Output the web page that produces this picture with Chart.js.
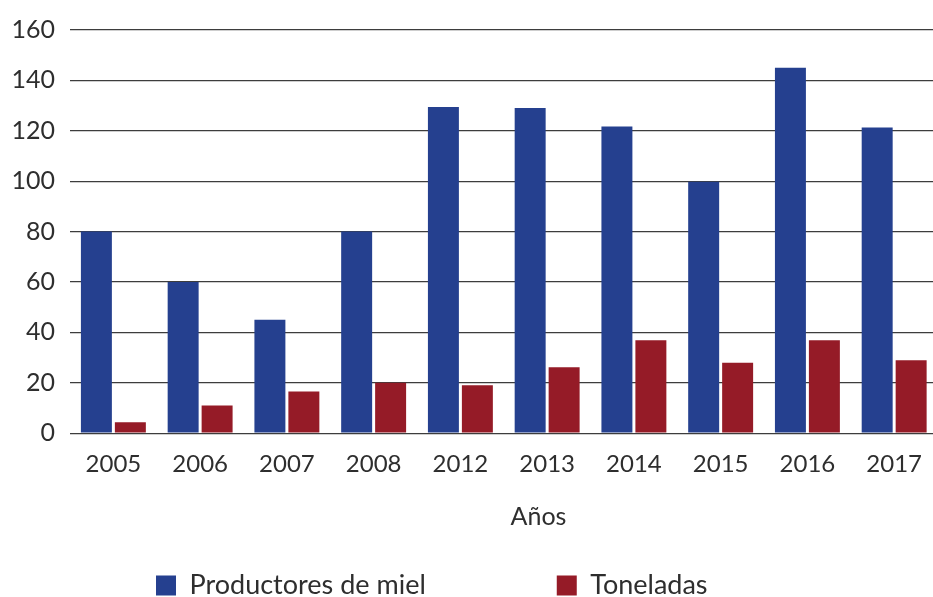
<!DOCTYPE html>
<html>
<head>
<meta charset="utf-8">
<script src="https://cdn.jsdelivr.net/npm/chart.js@4.4.0/dist/chart.umd.min.js"></script>
<style>
  html, body { margin: 0; padding: 0; background: #ffffff; overflow: hidden; }
  #wrap { width: 939px; height: 597px; }
</style>
</head>
<body>
<div id="wrap"><canvas id="c" width="939" height="597"></canvas></div>
<script>
const categories = ['2005', '2006', '2007', '2008', '2012', '2013', '2014', '2015', '2016', '2017'];
const productores = [80, 60, 45, 80, 129.4, 129, 121.7, 99.8, 145, 121.3];
const toneladas = [4.3, 11, 16.5, 20, 19, 26.2, 36.9, 28, 36.9, 28.9];
const seriesNames = ['Productores de miel', 'Toneladas'];
const axisTitle = 'Años';
const yTicks = [0, 20, 40, 60, 80, 100, 120, 140, 160];

const FONT = 'Lato, "Open Sans", sans-serif';
const TEXT = '#2e2e2e';

const placePlugin = {
  id: 'place',
  afterLayout(chart) {
    const lg = chart.legend;
    if (lg && lg.lineWidths) {
      const pad = lg.options.labels.padding;
      const cur = (lg.left + pad + lg.right - lg.lineWidths[0]) / 2;
      const shift = 156 - cur;
      lg.left += shift; lg.right += shift;
      lg.top = 572 - pad;
      lg.bottom = 597;
      lg.height = lg.bottom - lg.top;
    }
    const tb = chart.titleBlock;
    if (tb) {
      const w = tb.right - tb.left;
      const c = 538.5;
      tb.left = c - w / 2; tb.right = c + w / 2;
      tb.top = 502;
      tb.bottom = tb.top + 32;
    }
  }
};

new Chart(document.getElementById('c'), {
  type: 'bar',
  data: {
    labels: categories,
    datasets: [
      { label: seriesNames[0], data: productores, backgroundColor: '#25408f', borderWidth: 0,
        barPercentage: 0.912, categoryPercentage: 0.783 },
      { label: seriesNames[1], data: toneladas, backgroundColor: '#951b27', borderWidth: 0,
        barPercentage: 0.912, categoryPercentage: 0.783 }
    ]
  },
  options: {
    responsive: false,
    animation: false,
    devicePixelRatio: 1,
    layout: { padding: { top: 26, left: 0, right: 0, bottom: 31 } },
    scales: {
      x: {
        grid: { display: false, drawTicks: false },
        border: { display: false },
        ticks: { color: TEXT, font: { family: FONT, size: 24 }, padding: 17 }
      },
      y: {
        min: 0, max: 160,
        afterFit(s) { s.width = 70; },
        afterBuildTicks(s) { s.ticks = yTicks.map(v => ({ value: v })); },
        grid: { color: '#3d3d3d', lineWidth: 1.3, drawTicks: false },
        border: { display: false },
        ticks: { color: TEXT, font: { family: FONT, size: 25 }, padding: 15 }
      }
    },
    plugins: {
      tooltip: { enabled: false },
      title: {
        display: true, text: axisTitle, position: 'bottom', weight: 500,
        color: TEXT, font: { family: FONT, size: 25, weight: 'normal' }, padding: 0
      },
      legend: {
        display: true, position: 'bottom', maxHeight: 40,
        labels: { color: TEXT, font: { family: FONT, size: 27 }, boxWidth: 20, boxHeight: 20, padding: 131 }
      }
    }
  },
  plugins: [placePlugin]
});
</script>
</body>
</html>
